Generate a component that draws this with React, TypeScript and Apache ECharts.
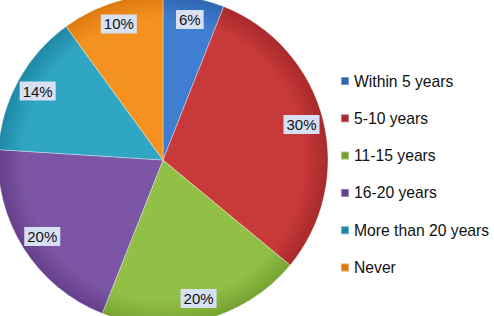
import React, { useEffect, useRef } from "react";
import * as echarts from "echarts";

const categories = ["Within 5 years", "5-10 years", "11-15 years", "16-20 years", "More than 20 years", "Never"];
const values = [6, 30, 20, 20, 14, 10];
const baseColors = ["#3F7ED0", "#C8393A", "#92BF45", "#7C56A4", "#2EA6C4", "#F5921F"];
const edgeColors = ["#2F66B0", "#A82A2C", "#76A330", "#65408A", "#1F88A4", "#DC7A10"];

const CX = 163;
const CY = 160;
const R = 165;

export default function App() {
  const ref = useRef<HTMLDivElement>(null);
  useEffect(() => {
    if (!ref.current) return;
    const chart = echarts.init(ref.current, undefined, { renderer: "svg" });
    const grad = (i: number) => ({
      type: "radial",
      x: CX,
      y: CY,
      r: R,
      global: true,
      colorStops: [
        { offset: 0, color: baseColors[i] },
        { offset: 0.85, color: baseColors[i] },
        { offset: 1, color: edgeColors[i] },
      ],
    });
    const data = categories.map((name, i) => ({ name, value: values[i] }));
    chart.setOption({
      animation: false,
      color: baseColors,
      legend: {
        orient: "vertical",
        left: 340,
        top: 72,
        padding: 0,
        itemWidth: 8,
        itemHeight: 8,
        itemGap: 19.3,
        itemTextGap: 5,
        icon: "rect",
        data: categories,
        textStyle: { fontFamily: "Liberation Sans", fontSize: 15.7, color: "#111", lineHeight: 18 },
      },
      series: [
        {
          type: "pie",
          center: [CX, CY],
          radius: [0, R],
          startAngle: 90,
          clockwise: true,
          data: data.map((d, i) => ({
            ...d,
            itemStyle: { color: grad(i), borderColor: "rgba(255,255,255,0.35)", borderWidth: 1 },
          })),
          label: { show: false },
          labelLine: { show: false },
          emphasis: { disabled: true },
        },
        {
          type: "pie",
          center: [CX, CY],
          radius: [115, R],
          startAngle: 90,
          clockwise: true,
          silent: true,
          legendHoverLink: false,
          data: data.map((d) => ({ ...d, itemStyle: { color: "rgba(0,0,0,0)" } })),
          label: {
            show: true,
            position: "inside",
            formatter: (p: any) => p.value + "%",
            fontFamily: "Liberation Sans",
            fontSize: 15,
            color: "#111",
            backgroundColor: "#D8E1F4",
            padding: [1, 3],
            lineHeight: 17,
          },
          labelLine: { show: false },
          emphasis: { disabled: true },
        },
      ],
    });
    return () => chart.dispose();
  }, []);
  return <div ref={ref} style={{ width: 494, height: 316, position: "fixed", left: 0, top: 0, background: "#fff" }} />;
}
